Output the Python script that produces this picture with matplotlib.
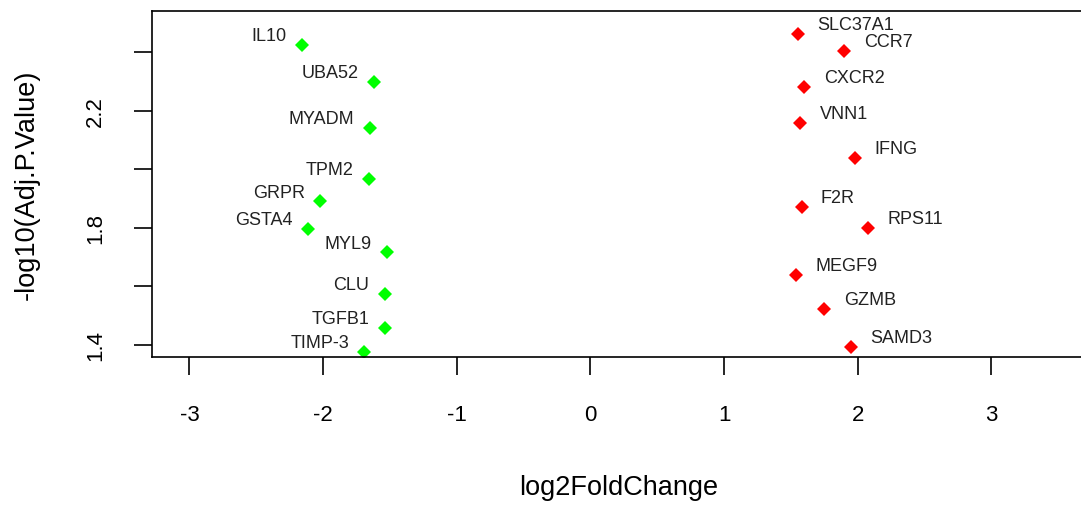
import matplotlib.pyplot as plt

plt.rcParams['font.family'] = ['Liberation Sans', 'DejaVu Sans']

# down-regulated genes (green)
down_genes = ["IL10", "UBA52", "MYADM", "TPM2", "GRPR", "GSTA4", "MYL9", "CLU", "TGFB1", "TIMP-3"]
down_fc = [-2.16, -1.62, -1.65, -1.66, -2.02, -2.11, -1.52, -1.54, -1.54, -1.69]
down_p = [2.424, 2.298, 2.141, 1.967, 1.891, 1.796, 1.717, 1.574, 1.458, 1.376]

# up-regulated genes (red)
up_genes = ["SLC37A1", "CCR7", "CXCR2", "VNN1", "IFNG", "F2R", "RPS11", "MEGF9", "GZMB", "SAMD3"]
up_fc = [1.55, 1.90, 1.60, 1.57, 1.98, 1.58, 2.08, 1.54, 1.75, 1.95]
up_p = [2.461, 2.403, 2.280, 2.158, 2.038, 1.871, 1.799, 1.639, 1.523, 1.393]

x_ticks = [-3, -2, -1, 0, 1, 2, 3]
y_ticks = [1.4, 1.6, 1.8, 2.0, 2.2, 2.4]
y_tick_labels = ["1.4", "", "1.8", "", "2.2", ""]

fig = plt.figure(figsize=(10.81, 5.06), dpi=100)
# right edge of the box sits just outside the picture, as in the original
ax = fig.add_axes([0.1406, 0.2925, 0.863, 0.6838])

ax.plot(down_fc, down_p, 'D', color='#00ff00', markersize=7.5, markeredgewidth=0)
ax.plot(up_fc, up_p, 'D', color='#ff0000', markersize=7.5, markeredgewidth=0)

for g, x, y in zip(down_genes, down_fc, down_p):
    ax.annotate(g, (x, y), xytext=(-11, 6.5), textcoords='offset points',
                ha='right', va='center', fontsize=13, color='#222222')
for g, x, y in zip(up_genes, up_fc, up_p):
    ax.annotate(g, (x, y), xytext=(14, 7), textcoords='offset points',
                ha='left', va='center', fontsize=13, color='#222222')

ax.set_xlim(-3.28, 3.70)
ax.set_ylim(1.359, 2.54)
ax.set_xticks(x_ticks)
ax.set_xticklabels([str(t) for t in x_ticks])
ax.set_yticks(y_ticks)
ax.set_yticklabels(y_tick_labels, rotation=90, va='center')

ax.tick_params(axis='both', direction='out', length=13, width=1.2, labelsize=16)
ax.tick_params(axis='x', pad=21)
ax.tick_params(axis='y', pad=20)
for s in ax.spines.values():
    s.set_linewidth(1.2)

ax.set_xlabel("log2FoldChange", fontsize=19.5, va='center')
ax.xaxis.set_label_coords(0.5, -0.376)
ax.set_ylabel("-log10(Adj.P.Value)", fontsize=19.5, va='center')
ax.yaxis.set_label_coords(-0.134, 0.5)

fig.savefig("out.png", dpi=100)
